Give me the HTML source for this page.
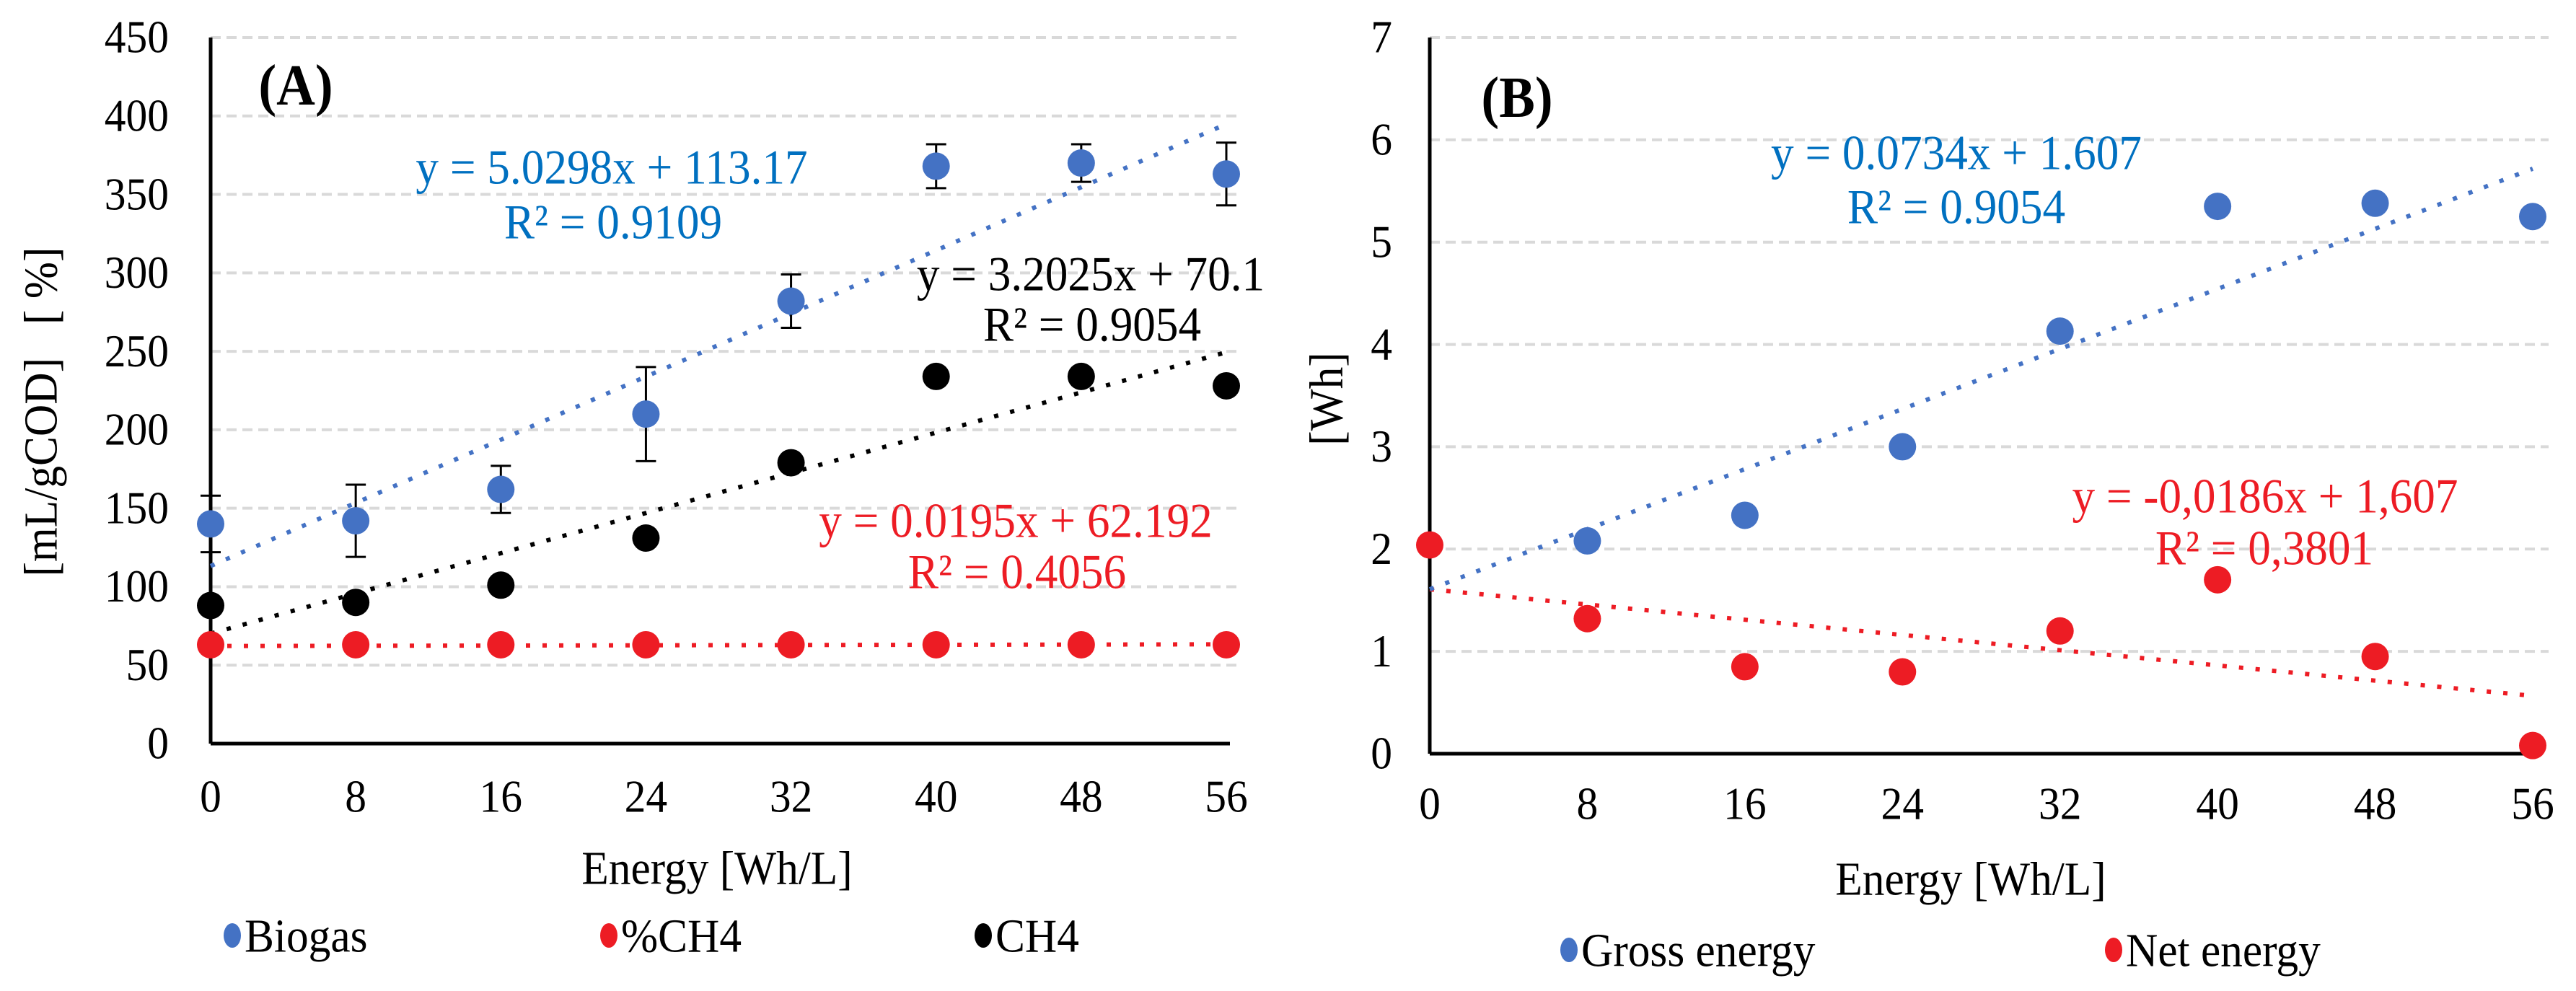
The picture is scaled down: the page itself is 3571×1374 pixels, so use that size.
<!DOCTYPE html>
<html><head><meta charset="utf-8"><style>
html,body{margin:0;padding:0;background:#fff;}
svg{display:block;}
svg text{font-family:"Liberation Serif","Times New Roman",serif;}
</style></head><body>
<svg id="chart" width="3571" height="1374" viewBox="0 0 3571 1374" xmlns="http://www.w3.org/2000/svg" font-family="Liberation Serif, serif">
<g id="panelA"></g>
<g id="panelB"></g>
</svg>
<script>
// ---- data ----
const energyX = [0, 8, 16, 24, 32, 40, 48, 56];
const biogas = [140, 142, 162, 210, 282, 368, 370, 363];
const biogasErr = [18, 23, 15, 30, 17, 14, 12, 20];
const ch4 = [88, 90, 101, 131, 179, 234, 234, 228];
const pctCh4 = [63, 63, 63, 63, 63, 63, 63, 63];
const fitBiogas = [5.0298, 113.17];
const fitCh4 = [3.2025, 70.1];
const fitPct = [0.0195, 62.192];
const ticksA = [0, 50, 100, 150, 200, 250, 300, 350, 400, 450];
const grossX = [8, 16, 24, 32, 40, 48, 56];
const gross = [2.08, 2.33, 3.0, 4.13, 5.35, 5.38, 5.25];
const net = [2.04, 1.32, 0.85, 0.8, 1.2, 1.7, 0.95, 0.08];
const fitGross = [0.0734, 1.607];
const fitNet = [-0.0186, 1.607];
const ticksB = [0, 1, 2, 3, 4, 5, 6, 7];

const NS = "http://www.w3.org/2000/svg";
const BLUE = "#4472C4", RED = "#ED1C24", EQBLUE = "#0070C0";
const FONT = "Liberation Serif, serif";
const SQUEEZE = 0.93;
function mk(parent, tag, attrs, text) {
  const e = document.createElementNS(NS, tag);
  if (tag === "text") {
    const x = attrs.x || 0, y = attrs.y || 0;
    const rot = attrs.rot ? ` rotate(${attrs.rot})` : "";
    delete attrs.x; delete attrs.y; delete attrs.rot;
    attrs.x = 0; attrs.y = 0;
    attrs.transform = `translate(${x},${y})${rot} scale(${SQUEEZE},1)`;
    e.setAttribute("font-family", FONT);
  }
  for (const k in attrs) e.setAttribute(k, attrs[k]);
  if (text !== undefined) e.textContent = text;
  parent.appendChild(e);
  return e;
}
function axes(x0, x1, y0, y1, vmax) {
  return {
    sx: v => x0 + (v / 56) * (x1 - x0),
    sy: v => y0 - (v / vmax) * (y0 - y1)
  };
}

function drawPanel(g, cfg) {
  const {x0, x1, y0, y1, vmax, ticks, tickLabelX} = cfg;
  const ax = axes(x0, x1, y0, y1, vmax);
  ticks.forEach(t => {
    if (t > 0) {
      const gl = mk(g, "line", {x1: x0, x2: x1 + 22, y1: ax.sy(t), y2: ax.sy(t), stroke: "#d9d9d9", "stroke-width": 4, "stroke-dasharray": "14 8"});
      
      
    }
    const tl = mk(g, "text", {x: tickLabelX, y: ax.sy(t), "text-anchor": "end", "dominant-baseline": "central", "font-size": 64}, String(t));
    
    
  });
  energyX.forEach(v => {
    const tl = mk(g, "text", {x: ax.sx(v), y: cfg.xTickY, "text-anchor": "middle", "dominant-baseline": "central", "font-size": 64}, String(v));
    
    
  });
  const yl = mk(g, "line", {x1: x0, x2: x0, y1: y1, y2: y0, stroke: "#000", "stroke-width": 5});
  
  
  const xl = mk(g, "line", {x1: x0, x2: x1 + 5, y1: y0, y2: y0, stroke: "#000", "stroke-width": 5});
  
  
  return ax;
}
function trend(g, ax, fit, color, name) {
  const l = mk(g, "line", {x1: ax.sx(0), y1: ax.sy(fit[1]), x2: ax.sx(56), y2: ax.sy(fit[0] * 56 + fit[1]), stroke: color, "stroke-width": 6, "stroke-dasharray": "6 17"});
  
  
}
function points(g, ax, xs, ys, color, name) {
  xs.forEach((x, i) => {
    const c = mk(g, "circle", {cx: ax.sx(x), cy: ax.sy(ys[i]), r: 19, fill: color});
    
    
  });
}
function label(g, x, y, txt, color, name, size, weight) {
  const t = mk(g, "text", {x: x, y: y, "text-anchor": "middle", "dominant-baseline": "central", "font-size": size || 68, fill: color, "font-weight": weight || "normal"}, txt);
  
  
}
function legend(g, x, y, color, txt, name) {
  const c = mk(g, "ellipse", {cx: x, cy: y, rx: 12, ry: 17, fill: color});
  
  
  const t = mk(g, "text", {x: x + 17, y: y, "dominant-baseline": "central", "font-size": 66}, txt);
  
  
}

// ---- Panel A ----
const gA = document.getElementById("panelA");
const axA = drawPanel(gA, {x0: 292, x1: 1700, y0: 1031, y1: 52, vmax: 450, ticks: ticksA, tickLabelX: 234, xTickY: 1105});
trend(gA, axA, fitPct, RED, "trendline-pct-ch4");
trend(gA, axA, fitCh4, "#000", "trendline-ch4");
trend(gA, axA, fitBiogas, BLUE, "trendline-biogas");
energyX.forEach((x, i) => {
  const cx = axA.sx(x), top = axA.sy(biogas[i] + biogasErr[i]), bot = axA.sy(biogas[i] - biogasErr[i]);
  const eb = mk(gA, "path", {d: `M${cx},${top}V${bot}M${cx-14},${top}H${cx+14}M${cx-14},${bot}H${cx+14}`, stroke: "#000", "stroke-width": 3, fill: "none"});
  
  
});
points(gA, axA, energyX, pctCh4, RED, "point-pct-ch4");
points(gA, axA, energyX, ch4, "#000", "point-ch4");
points(gA, axA, energyX, biogas, BLUE, "point-biogas");
label(gA, 410, 118, "(A)", "#000", "panel-a-label", 80, "bold");
label(gA, 848, 232, "y = 5.0298x + 113.17", EQBLUE, "biogas-equation");
label(gA, 850, 308, "R² = 0.9109", EQBLUE, "biogas-r2");
label(gA, 1512, 380, "y = 3.2025x + 70.1", "#000", "ch4-equation");
label(gA, 1514, 450, "R² = 0.9054", "#000", "ch4-r2");
label(gA, 1408, 722, "y = 0.0195x + 62.192", RED, "pct-ch4-equation");
label(gA, 1410, 793, "R² = 0.4056", RED, "pct-ch4-r2");
label(gA, 994, 1203, "Energy [Wh/L]", "#000", "x-axis-title-a", 66);
const ytA = mk(gA, "text", {x: 56, y: 571, rot: -90, "text-anchor": "middle", "dominant-baseline": "central", "font-size": 66}, "[mL/gCOD]\u00a0\u00a0\u00a0[ %]");


legend(gA, 322, 1297, BLUE, "Biogas", "legend-biogas");
legend(gA, 844, 1297, RED, "%CH4", "legend-pct-ch4");
legend(gA, 1363, 1297, "#000", "CH4", "legend-ch4");

// ---- Panel B ----
const gB = document.getElementById("panelB");
const axB = drawPanel(gB, {x0: 1982, x1: 3511, y0: 1045, y1: 52, vmax: 7, ticks: ticksB, tickLabelX: 1930, xTickY: 1115});
trend(gB, axB, fitNet, RED, "trendline-net-energy");
trend(gB, axB, fitGross, BLUE, "trendline-gross-energy");
points(gB, axB, grossX, gross, BLUE, "point-gross-energy");
points(gB, axB, energyX, net, RED, "point-net-energy");
label(gB, 2103, 135, "(B)", "#000", "panel-b-label", 80, "bold");
label(gB, 2712, 212, "y = 0.0734x + 1.607", EQBLUE, "gross-equation");
label(gB, 2712, 287, "R² = 0.9054", EQBLUE, "gross-r2");
label(gB, 3140, 688, "y = -0,0186x + 1,607", RED, "net-equation");
label(gB, 3139, 760, "R² = 0,3801", RED, "net-r2");
label(gB, 2732, 1218, "Energy [Wh/L]", "#000", "x-axis-title-b", 66);
const ytB = mk(gB, "text", {x: 1838, y: 553, rot: -90, "text-anchor": "middle", "dominant-baseline": "central", "font-size": 66}, "[Wh]");


legend(gB, 2175, 1317, BLUE, "Gross energy", "legend-gross-energy");
legend(gB, 2930, 1317, RED, "Net energy", "legend-net-energy");
</script>
</body></html>
